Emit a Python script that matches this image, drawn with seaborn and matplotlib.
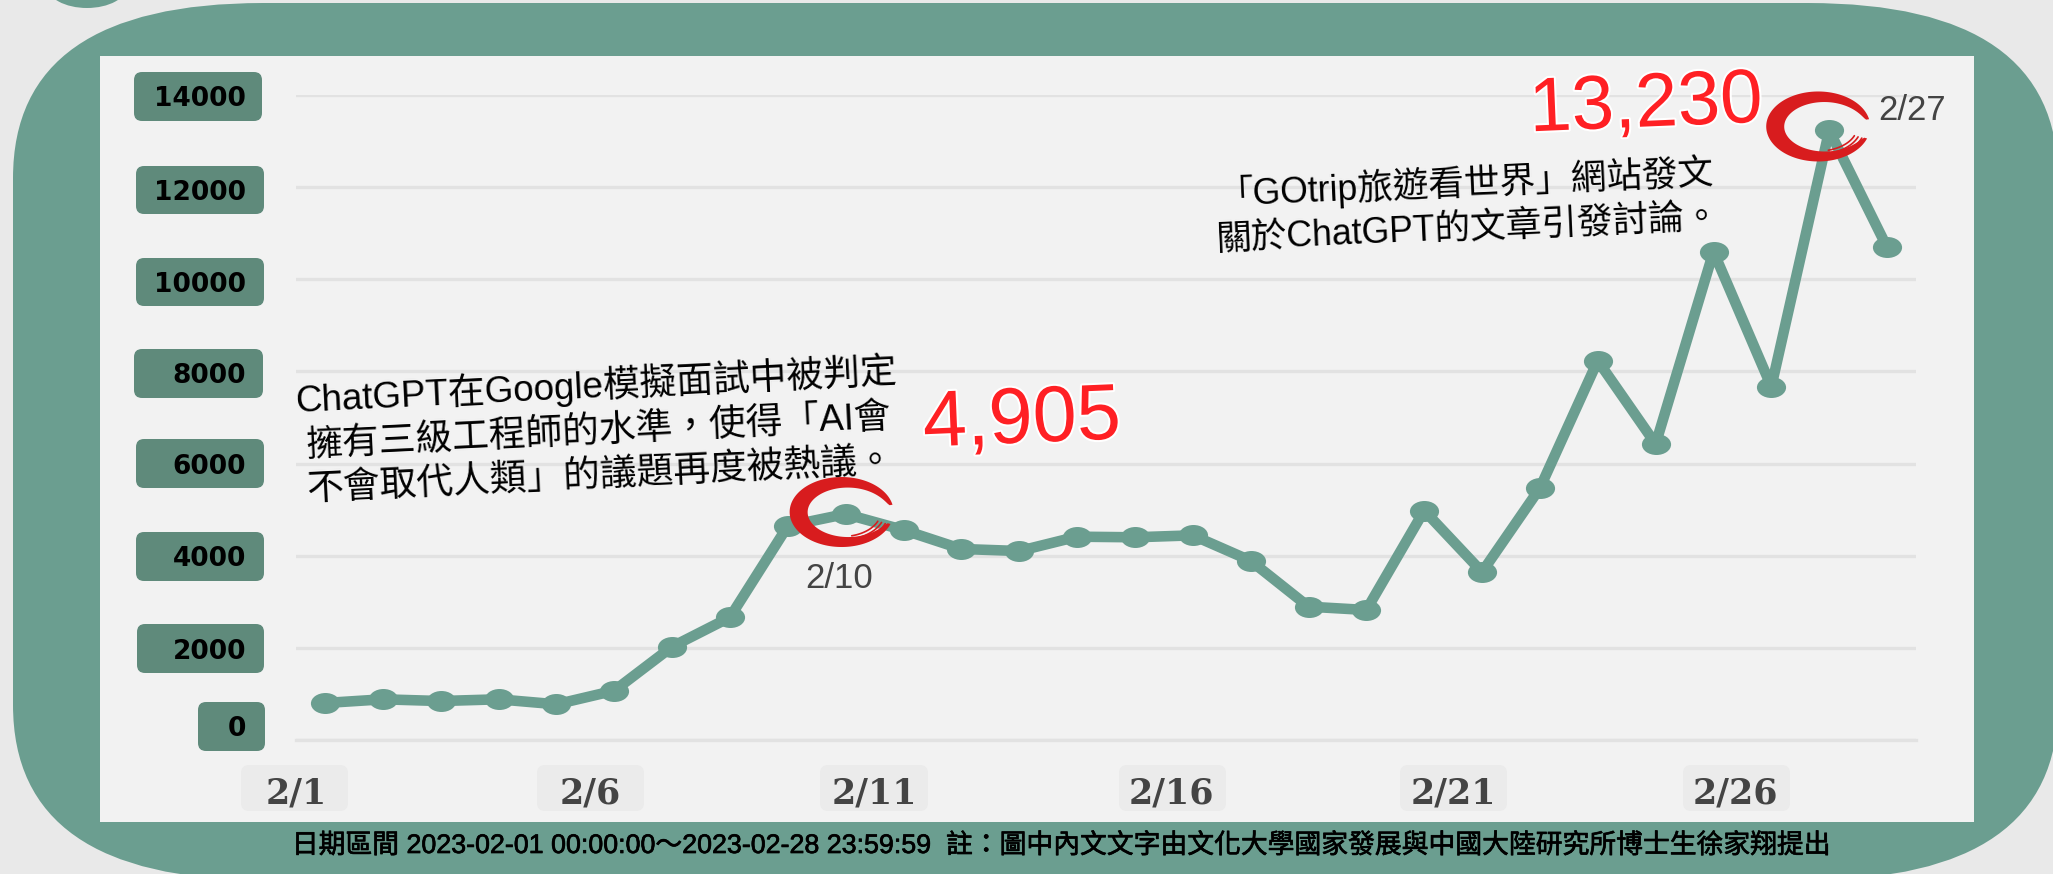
import numpy as np
import pandas as pd
import matplotlib
matplotlib.use("Agg")
import matplotlib.pyplot as plt
import matplotlib.patheffects as pe
from matplotlib.patches import FancyBboxPatch, Ellipse, Polygon
from matplotlib.path import Path
from matplotlib.transforms import Affine2D, ScaledTranslation
import seaborn as sns

days = ["2/1", "2/2", "2/3", "2/4", "2/5", "2/6", "2/7", "2/8", "2/9", "2/10",
        "2/11", "2/12", "2/13", "2/14", "2/15", "2/16", "2/17", "2/18", "2/19", "2/20",
        "2/21", "2/22", "2/23", "2/24", "2/25", "2/26", "2/27", "2/28"]
counts = [803, 883, 846, 883, 775, 1070, 2025, 2663, 4645, 4905,
          4558, 4146, 4102, 4413, 4400, 4442, 3891, 2894, 2822, 4980,
          3646, 5467, 8233, 6425, 10600, 7670, 13230, 10695]
y_ticks = [0, 2000, 4000, 6000, 8000, 10000, 12000, 14000]
x_tick_days = ["2/1", "2/6", "2/11", "2/16", "2/21", "2/26"]

note_left = "ChatGPT在Google模擬面試中被判定\n擁有三級工程師的水準，使得「AI會\n不會取代人類」的議題再度被熱議。"
note_right = "「GOtrip旅遊看世界」網站發文\n關於ChatGPT的文章引發討論。"
footer = "日期區間 2023-02-01 00:00:00～2023-02-28 23:59:59  註：圖中內文文字由文化大學國家發展與中國大陸研究所博士生徐家翔提出"

TEAL = "#6b9e90"
BOX = "#5f8a7b"
W, H = 2053, 874

sns.set_style("white")
plt.rcParams['font.family'] = ['Liberation Sans', 'Noto Sans CJK TC', 'DejaVu Sans']


def px_box(fig, x0, y0, x1, y1, color, rounding=8, aspect=1.0, z=1):
    # pixel coords, y going down like in the picture
    p = FancyBboxPatch((x0, H - y1), x1 - x0, y1 - y0, boxstyle=f"round,pad=0,rounding_size={rounding}",
                       mutation_aspect=aspect, fc=color, ec="none", transform=None, zorder=z)
    fig.add_artist(p)


def brush_ring(ax, idx, val, dx, dy):
    # red brush circle around a point, offset in pixels
    cx, cy = ax.transData.transform((idx, val))
    cx, cy = cx + dx, cy + dy
    rx, ry = 52, 35
    th = np.radians(np.linspace(12, 340, 120))
    t = 3 + 15 * np.sin((th - th[0]) / (th[-1] - th[0]) * np.pi) ** 0.7
    outer = np.c_[cx + rx * np.cos(th), cy + ry * np.sin(th)]
    inner = np.c_[cx + (rx - t) * np.cos(th), cy + (ry - t * 0.75) * np.sin(th)]
    ax.add_patch(Polygon(np.r_[outer, inner[::-1]], fc="#d81c1e", ec="none", transform=None,
                         zorder=6, clip_on=False))
    # thin streaks at the tail
    for k in (5, 9, 13):
        th2 = np.radians(np.linspace(285, 338, 30))
        ax.plot(cx + (rx - k) * np.cos(th2), cy + (ry - k * 0.8) * np.sin(th2), color="#d81c1e", lw=1.2,
                transform=Affine2D(), zorder=6, clip_on=False)


fig = plt.figure(figsize=(W / 100, H / 100), dpi=100, facecolor="#e9e9e9")

# frame
fig.add_artist(Ellipse((87, H + 14), 80, 44, fc=TEAL, ec="none", transform=None, zorder=1))
px_box(fig, 13, 3, 2058, 880, TEAL, rounding=250, aspect=0.7)
px_box(fig, 100, 56, 1974, 822, "#f2f2f2", rounding=0.01, z=2)

# y label boxes
for x0, y0, x1, y1 in [(134, 72, 262, 121), (136, 166, 264, 214), (136, 258, 264, 306), (134, 349, 263, 398),
                       (136, 439, 264, 488), (136, 532, 264, 581), (137, 624, 264, 673), (198, 702, 265, 751)]:
    px_box(fig, x0, y0, x1, y1, BOX, rounding=8, z=3)
# x label boxes
for x0, x1 in [(241, 348), (537, 644), (820, 928), (1119, 1226), (1400, 1507), (1683, 1790)]:
    px_box(fig, x0, 765, x1, 811, "#ebebeb", rounding=8, z=3)

ax = fig.add_axes([296 / W, 1 - 740 / H, (1916 - 296) / W, (740 - 95) / H], facecolor="none")
ax.set_zorder(5)

df = pd.DataFrame({"day": np.arange(len(days)), "count": counts})
ellipse = Affine2D().scale(1, 0.72).transform_path(Path.unit_circle())
sns.lineplot(data=df, x="day", y="count", ax=ax, color=TEAL, lw=7.6, marker=ellipse, ms=21,
             mew=0, mec=TEAL, clip_on=False, zorder=4)

ax.set_xlim(-0.5, len(days) - 0.5)
ax.set_ylim(0, 14000)
ax.set_xlabel("")
ax.set_ylabel("")
ax.set_yticks(y_ticks, [str(v) for v in y_ticks], fontsize=19, fontweight="bold", color="black",
              fontfamily="DejaVu Sans")
ax.set_xticks([days.index(d) - 0.5 for d in x_tick_days], x_tick_days, fontsize=25, fontweight="bold",
              color="#444444", fontfamily="DejaVu Serif")
ax.grid(axis="y", color="#e2e2e2", lw=2.4)
ax.set_axisbelow(True)
sns.despine(ax=ax, left=True, top=True, right=True)
ax.spines["bottom"].set_color("#e2e2e2")
ax.spines["bottom"].set_linewidth(2.4)
ax.tick_params(axis="y", length=0, pad=36)
ax.tick_params(axis="x", length=6, width=2.4, color="#e2e2e2", pad=20)

# tick labels do not sit exactly on their ticks in the original
for lab, dy in zip(ax.get_yticklabels(), [14, -1, 0, 0, -2, -3, -3, -1]):
    lab.set_transform(lab.get_transform() + ScaledTranslation(0, dy / 100, fig.dpi_scale_trans))
for lab, dx in zip(ax.get_xticklabels(), [0, 5, 0, 8, 0, -7]):
    lab.set_transform(lab.get_transform() + ScaledTranslation(dx / 100, 0, fig.dpi_scale_trans))

fig.canvas.draw()
brush_ring(ax, days.index("2/10"), counts[days.index("2/10")], -4, 2)
brush_ring(ax, days.index("2/27"), counts[days.index("2/27")], -11, 4)

halo = [pe.withStroke(linewidth=3, foreground="white")]
fig.text(598 / W, 1 - 430 / H, note_left, fontsize=26.5, color="black", ha="center", va="center", rotation=2.8,
         rotation_mode="anchor", linespacing=1.33, zorder=7)
fig.text(1467 / W, 1 - 205 / H, note_right, fontsize=25.7, color="black", ha="center", va="center", rotation=2.6,
         rotation_mode="anchor", linespacing=1.33, zorder=7)
fig.text(1022 / W, 1 - 422 / H, "4,905", fontsize=57, color="#ff2024", ha="center", va="center", rotation=2.4,
         rotation_mode="anchor", path_effects=halo, zorder=7)
fig.text(1646 / W, 1 - 107 / H, "13,230", fontsize=55, color="#ff2024", ha="center", va="center", rotation=2.4,
         rotation_mode="anchor", path_effects=halo, zorder=7)
fig.text(839 / W, 1 - 579 / H, "2/10", fontsize=25, color="#444444", ha="center", va="center", zorder=7)
fig.text(1912 / W, 1 - 110 / H, "2/27", fontsize=25, color="#444444", ha="center", va="center", zorder=7)
fig.text(1059 / W, 1 - 846 / H, footer, fontsize=19.3, color="black", ha="center", va="center", zorder=7,
         path_effects=[pe.withStroke(linewidth=0.5, foreground="black")])

fig.savefig("out.png", dpi=100, facecolor=fig.get_facecolor())
